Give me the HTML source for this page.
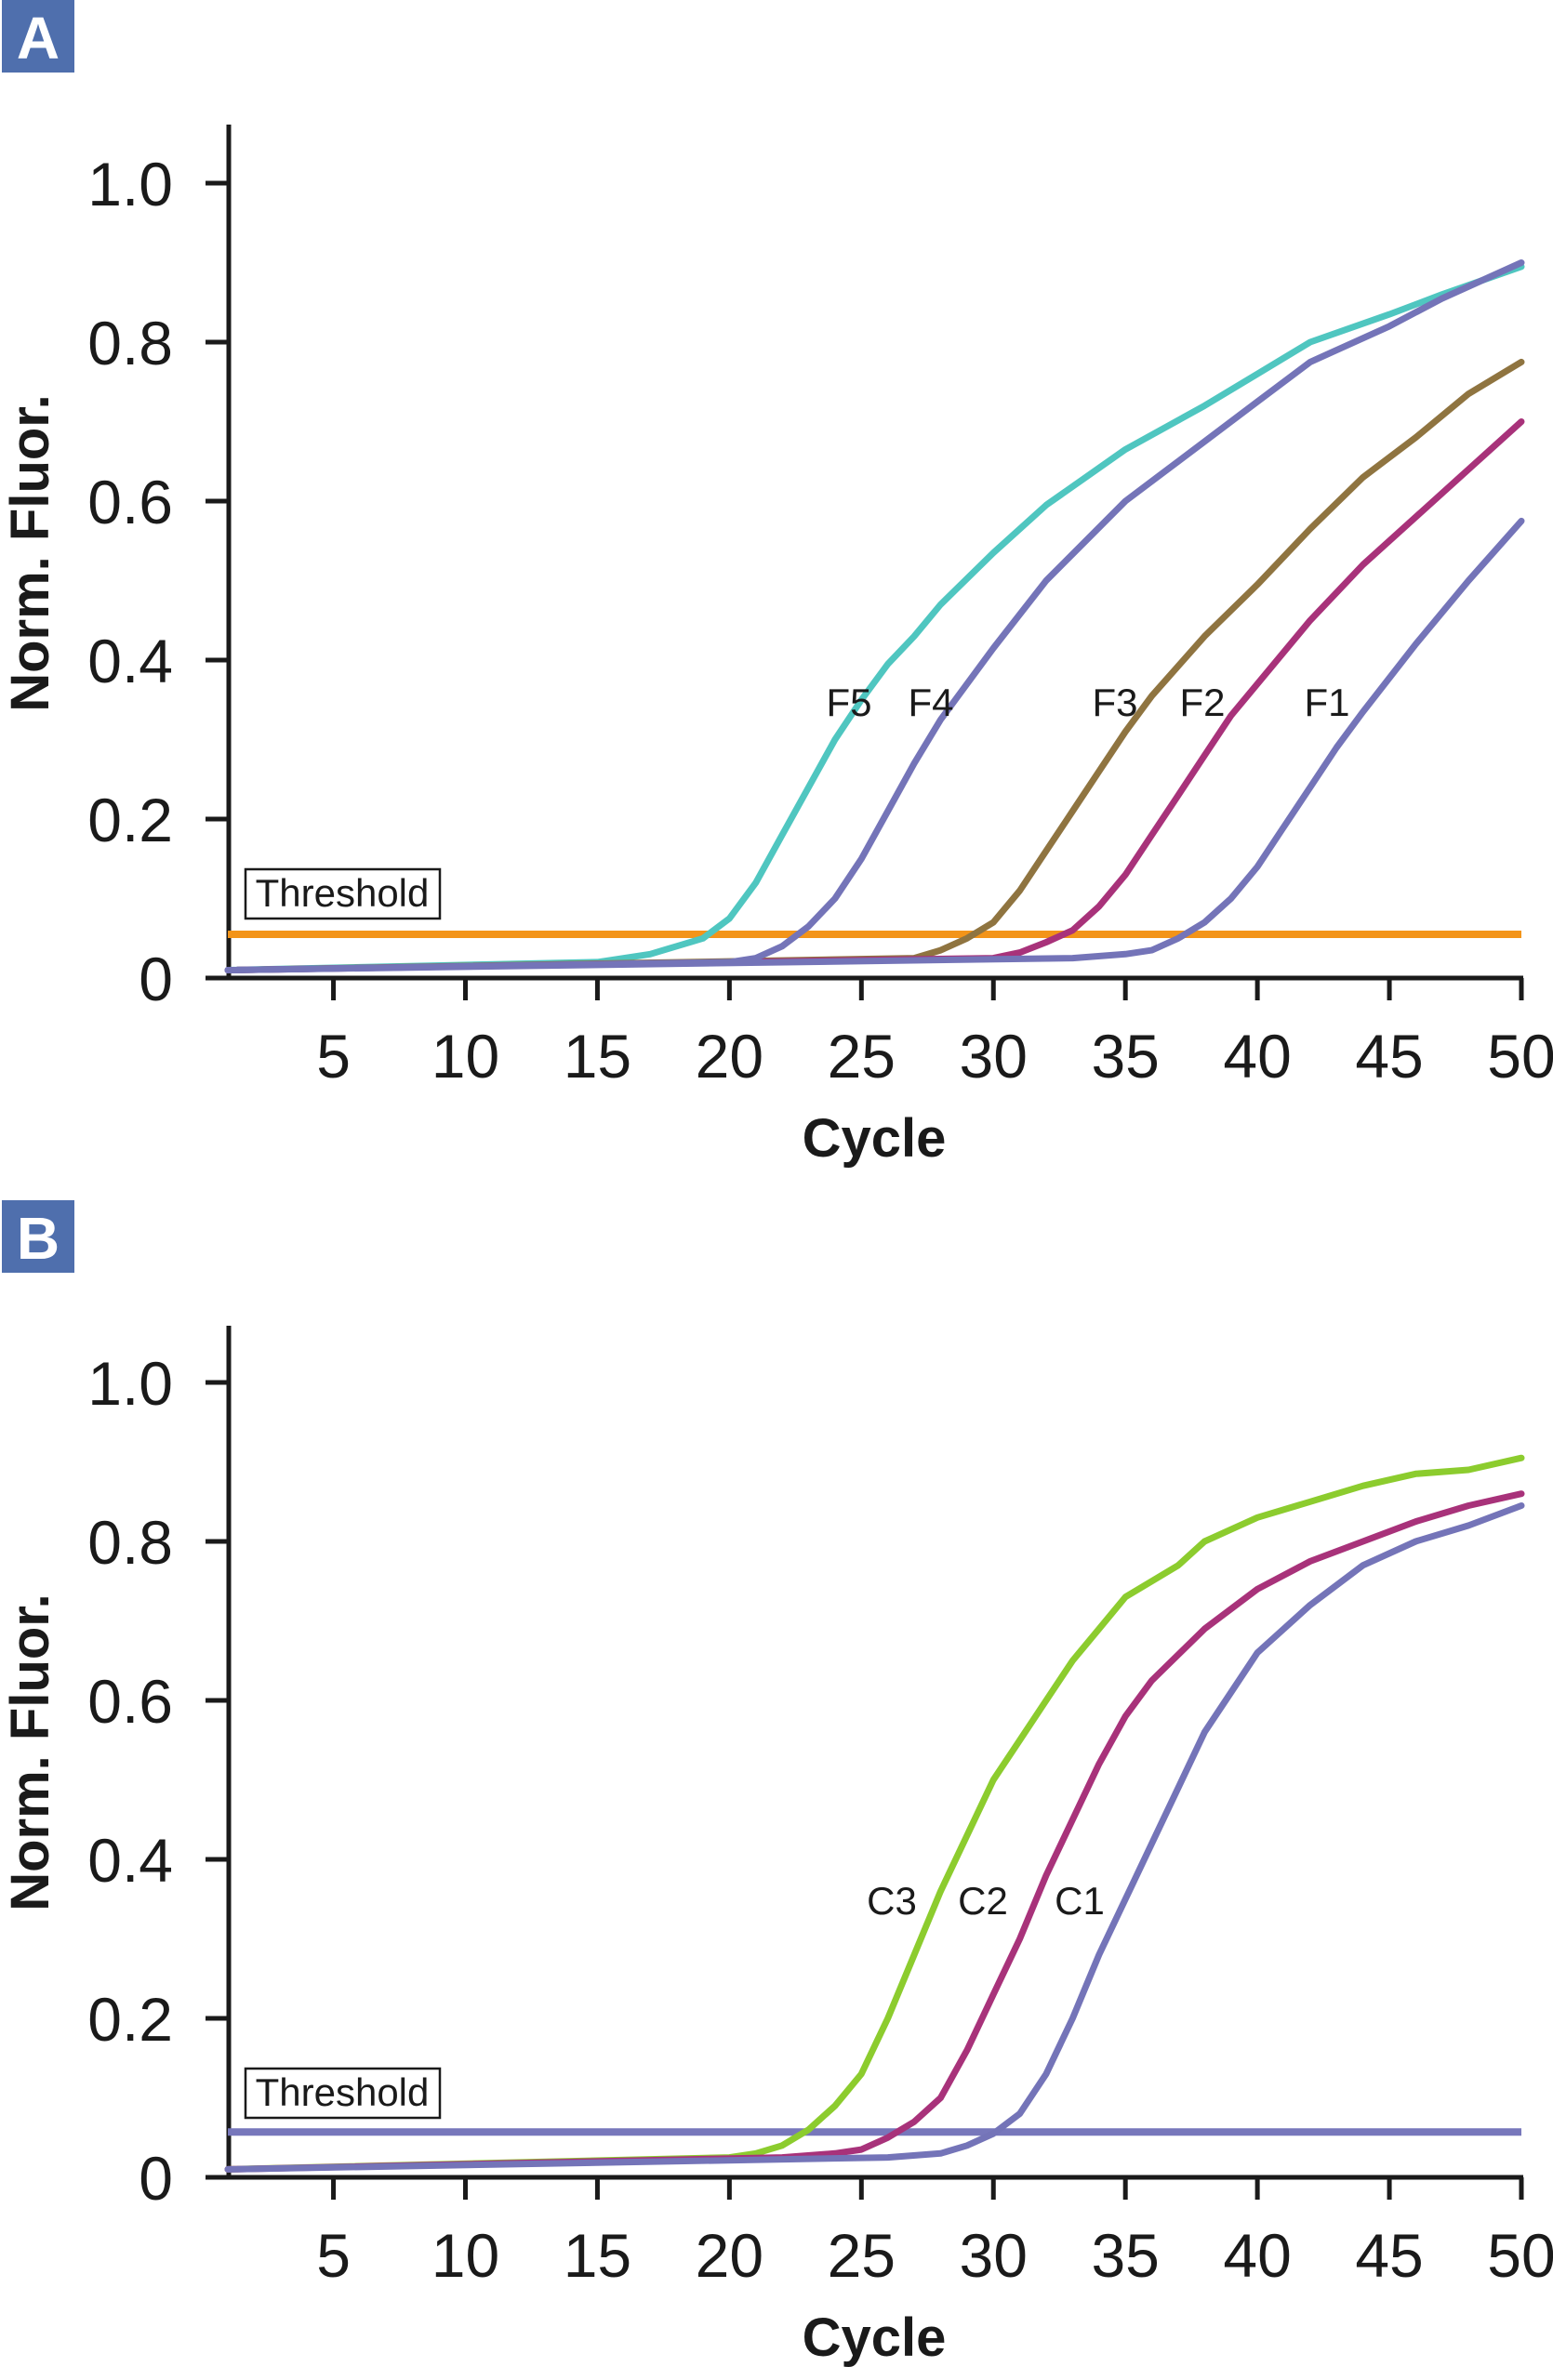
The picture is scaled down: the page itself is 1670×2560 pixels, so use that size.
<!DOCTYPE html>
<html><head><meta charset="utf-8"><style>
html,body{margin:0;padding:0;background:#fff;}
svg{display:block;}
text{font-family:"Liberation Sans","DejaVu Sans",sans-serif;fill:#1a1a1a;}
</style></head><body>
<svg id="s" width="1670" height="2560" viewBox="0 0 1670 2560" xmlns="http://www.w3.org/2000/svg"></svg>
<script>
const s=document.getElementById('s');
let h='';
const X=c=>245+(c-1)*(1636-245)/49;
function panel(y0,top,letter,boxY){
  const Y=v=>y0-v*855;
  h+=`<rect x="2" y="${boxY}" width="78" height="78" fill="#4f6fad"/>`;
  h+=`<text x="41" y="${boxY+63}" text-anchor="middle" font-size="64" font-weight="bold" style="fill:#fff">${letter}</text>`;
  h+=`<line x1="246" y1="${top}" x2="246" y2="${y0+2}" stroke="#1a1a1a" stroke-width="5"/>`;
  h+=`<line x1="244" y1="${y0}" x2="1638" y2="${y0}" stroke="#1a1a1a" stroke-width="5"/>`;
  const yl=['0','0.2','0.4','0.6','0.8','1.0'];
  for(let i=0;i<6;i++){const y=Y(i*0.2);
    h+=`<line x1="221" y1="${y}" x2="246" y2="${y}" stroke="#1a1a1a" stroke-width="5"/>`;
    h+=`<text x="186" y="${y+24}" text-anchor="end" font-size="66">${yl[i]}</text>`;}
  for(let c=5;c<=50;c+=5){const x=X(c);
    h+=`<line x1="${x}" y1="${y0}" x2="${x}" y2="${y0+24}" stroke="#1a1a1a" stroke-width="5"/>`;
    h+=`<text x="${x}" y="${y0+107}" text-anchor="middle" font-size="66">${c}</text>`;}
  h+=`<text x="940" y="${y0+192}" text-anchor="middle" font-size="58" font-weight="bold">Cycle</text>`;
  h+=`<text transform="translate(52,${y0-457}) rotate(-90)" text-anchor="middle" font-size="58" font-weight="bold">Norm. Fluor.</text>`;
  return Y;
}
function curve(Y,pts,col){
  let d='';
  for(let i=0;i<pts.length;i+=2){d+=(i?'L':'M')+X(pts[i]).toFixed(1)+','+Y(pts[i+1]).toFixed(1);}
  h+=`<path d="${d}" fill="none" stroke="${col}" stroke-width="7" stroke-linejoin="round" stroke-linecap="round"/>`;
}
function thr(Y,v,col,y0){
  h+=`<rect x="264" y="${y0-117}" width="209" height="53" fill="#fff" stroke="#1a1a1a" stroke-width="2.5"/>`;
  h+=`<text x="368" y="${y0-77}" text-anchor="middle" font-size="42">Threshold</text>`;
  h+=`<line x1="245" y1="${Y(v)}" x2="1636" y2="${Y(v)}" stroke="${col}" stroke-width="8"/>`;
}
// Panel A
let Y=panel(1052,134,'A',0);
thr(Y,0.055,'#f39419',1052);
curve(Y,[1,.01,15,.02,17,.03,18,.04,19,.05,20,.075,21,.12,22,.18,23,.24,24,.3,25,.35,26,.395,27,.43,28,.47,30,.535,32,.595,35,.665,38,.72,40,.76,42,.8,45,.835,47,.86,50,.895],'#4fc6c0');
curve(Y,[1,.01,27,.025,28,.035,29,.05,30,.07,31,.11,32,.16,33,.21,34,.26,35,.31,36,.355,38,.43,40,.495,42,.565,44,.63,46,.68,48,.735,50,.775],'#8f7440');
curve(Y,[1,.01,30,.025,31,.032,32,.045,33,.06,34,.09,35,.13,36,.18,37,.23,38,.28,39,.33,40,.37,42,.45,44,.52,46,.58,48,.64,50,.7],'#a8327a');
curve(Y,[1,.01,33,.025,35,.03,36,.035,37,.05,38,.07,39,.1,40,.14,41,.19,42,.24,43,.29,44,.335,46,.42,48,.5,50,.575],'#7474b8');
curve(Y,[1,.01,20,.02,21,.025,22,.04,23,.065,24,.1,25,.15,26,.21,27,.27,28,.325,30,.415,32,.5,35,.6,38,.675,40,.725,42,.775,45,.82,47,.855,50,.9],'#7474b8');
[['F5',913],['F4',1001],['F3',1199],['F2',1293],['F1',1427]].forEach(a=>{h+=`<text x="${a[1]}" y="770" text-anchor="middle" font-size="42">${a[0]}</text>`;});
// Panel B
Y=panel(2342,1426,'B',1291);
thr(Y,0.057,'#7777bb',2342);
curve(Y,[1,.01,20,.025,21,.03,22,.04,23,.06,24,.09,25,.13,26,.2,27,.28,28,.36,29,.43,30,.5,31,.55,32,.6,33,.65,34,.69,35,.73,37,.77,38,.8,40,.83,42,.85,44,.87,46,.885,48,.89,50,.905],'#8ccc2e');
curve(Y,[1,.01,22,.025,24,.03,25,.035,26,.05,27,.07,28,.1,29,.16,30,.23,31,.3,32,.38,33,.45,34,.52,35,.58,36,.625,38,.69,40,.74,42,.775,44,.8,46,.825,48,.845,50,.86],'#a8327a');
curve(Y,[1,.01,26,.025,28,.03,29,.04,30,.055,31,.08,32,.13,33,.2,34,.28,35,.35,36,.42,37,.49,38,.56,39,.61,40,.66,42,.72,44,.77,46,.8,48,.82,50,.845],'#7474b8');
[['C3',959],['C2',1057],['C1',1161]].forEach(a=>{h+=`<text x="${a[1]}" y="2059" text-anchor="middle" font-size="42">${a[0]}</text>`;});
s.innerHTML=h;
</script>
</body></html>
